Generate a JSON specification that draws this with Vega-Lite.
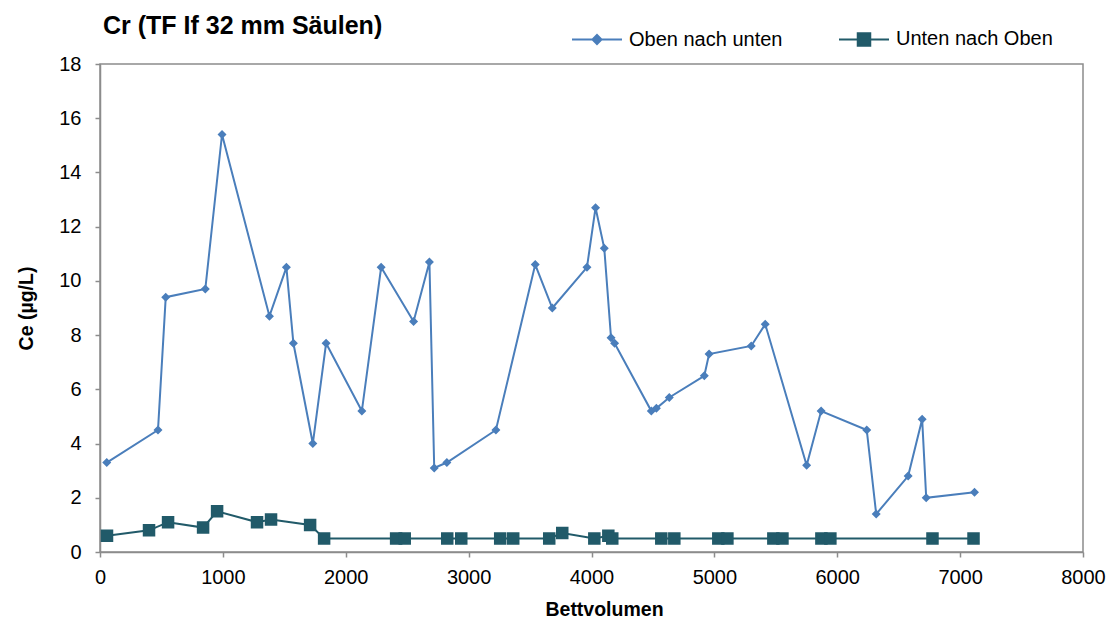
{
  "$schema": "https://vega.github.io/schema/vega-lite/v6.json",
  "width": 983,
  "height": 488,
  "autosize": {"type": "none"},
  "padding": {"left": 100, "top": 64, "right": 32, "bottom": 72},
  "background": "white",
  "config": {
    "font": "Liberation Sans",
    "view": {"stroke": "#8c8c8c", "strokeWidth": 1.5}
  },
  "title": {"text": "Cr (TF If 32 mm Säulen)", "anchor": "start", "frame": "group", "fontSize": 25, "fontWeight": "bold", "color": "black", "offset": 22, "dx": 3, "dy": 48},
  "data": {"values": [
    {"bv": 55, "ce": 3.3, "series": "Oben nach unten"},
    {"bv": 472, "ce": 4.5, "series": "Oben nach unten"},
    {"bv": 535, "ce": 9.4, "series": "Oben nach unten"},
    {"bv": 857, "ce": 9.7, "series": "Oben nach unten"},
    {"bv": 993, "ce": 15.4, "series": "Oben nach unten"},
    {"bv": 1379, "ce": 8.7, "series": "Oben nach unten"},
    {"bv": 1517, "ce": 10.5, "series": "Oben nach unten"},
    {"bv": 1574, "ce": 7.7, "series": "Oben nach unten"},
    {"bv": 1732, "ce": 4.0, "series": "Oben nach unten"},
    {"bv": 1840, "ce": 7.7, "series": "Oben nach unten"},
    {"bv": 2131, "ce": 5.2, "series": "Oben nach unten"},
    {"bv": 2288, "ce": 10.5, "series": "Oben nach unten"},
    {"bv": 2552, "ce": 8.5, "series": "Oben nach unten"},
    {"bv": 2681, "ce": 10.7, "series": "Oben nach unten"},
    {"bv": 2720, "ce": 3.1, "series": "Oben nach unten"},
    {"bv": 2823, "ce": 3.3, "series": "Oben nach unten"},
    {"bv": 3222, "ce": 4.5, "series": "Oben nach unten"},
    {"bv": 3542, "ce": 10.6, "series": "Oben nach unten"},
    {"bv": 3681, "ce": 9.0, "series": "Oben nach unten"},
    {"bv": 3963, "ce": 10.5, "series": "Oben nach unten"},
    {"bv": 4033, "ce": 12.7, "series": "Oben nach unten"},
    {"bv": 4104, "ce": 11.2, "series": "Oben nach unten"},
    {"bv": 4159, "ce": 7.9, "series": "Oben nach unten"},
    {"bv": 4188, "ce": 7.7, "series": "Oben nach unten"},
    {"bv": 4487, "ce": 5.2, "series": "Oben nach unten"},
    {"bv": 4528, "ce": 5.3, "series": "Oben nach unten"},
    {"bv": 4633, "ce": 5.7, "series": "Oben nach unten"},
    {"bv": 4918, "ce": 6.5, "series": "Oben nach unten"},
    {"bv": 4957, "ce": 7.3, "series": "Oben nach unten"},
    {"bv": 5300, "ce": 7.6, "series": "Oben nach unten"},
    {"bv": 5414, "ce": 8.4, "series": "Oben nach unten"},
    {"bv": 5751, "ce": 3.2, "series": "Oben nach unten"},
    {"bv": 5869, "ce": 5.2, "series": "Oben nach unten"},
    {"bv": 6240, "ce": 4.5, "series": "Oben nach unten"},
    {"bv": 6317, "ce": 1.4, "series": "Oben nach unten"},
    {"bv": 6577, "ce": 2.8, "series": "Oben nach unten"},
    {"bv": 6691, "ce": 4.9, "series": "Oben nach unten"},
    {"bv": 6724, "ce": 2.0, "series": "Oben nach unten"},
    {"bv": 7117, "ce": 2.2, "series": "Oben nach unten"},
    {"bv": 57, "ce": 0.6, "series": "Unten nach Oben"},
    {"bv": 399, "ce": 0.8, "series": "Unten nach Oben"},
    {"bv": 554, "ce": 1.1, "series": "Unten nach Oben"},
    {"bv": 839, "ce": 0.9, "series": "Unten nach Oben"},
    {"bv": 953, "ce": 1.5, "series": "Unten nach Oben"},
    {"bv": 1278, "ce": 1.1, "series": "Unten nach Oben"},
    {"bv": 1392, "ce": 1.2, "series": "Unten nach Oben"},
    {"bv": 1710, "ce": 1.0, "series": "Unten nach Oben"},
    {"bv": 1824, "ce": 0.5, "series": "Unten nach Oben"},
    {"bv": 2410, "ce": 0.5, "series": "Unten nach Oben"},
    {"bv": 2480, "ce": 0.5, "series": "Unten nach Oben"},
    {"bv": 2826, "ce": 0.5, "series": "Unten nach Oben"},
    {"bv": 2940, "ce": 0.5, "series": "Unten nach Oben"},
    {"bv": 3257, "ce": 0.5, "series": "Unten nach Oben"},
    {"bv": 3363, "ce": 0.5, "series": "Unten nach Oben"},
    {"bv": 3656, "ce": 0.5, "series": "Unten nach Oben"},
    {"bv": 3762, "ce": 0.7, "series": "Unten nach Oben"},
    {"bv": 4023, "ce": 0.5, "series": "Unten nach Oben"},
    {"bv": 4137, "ce": 0.6, "series": "Unten nach Oben"},
    {"bv": 4169, "ce": 0.5, "series": "Unten nach Oben"},
    {"bv": 4568, "ce": 0.5, "series": "Unten nach Oben"},
    {"bv": 4674, "ce": 0.5, "series": "Unten nach Oben"},
    {"bv": 5032, "ce": 0.5, "series": "Unten nach Oben"},
    {"bv": 5106, "ce": 0.5, "series": "Unten nach Oben"},
    {"bv": 5480, "ce": 0.5, "series": "Unten nach Oben"},
    {"bv": 5554, "ce": 0.5, "series": "Unten nach Oben"},
    {"bv": 5871, "ce": 0.5, "series": "Unten nach Oben"},
    {"bv": 5944, "ce": 0.5, "series": "Unten nach Oben"},
    {"bv": 6775, "ce": 0.5, "series": "Unten nach Oben"},
    {"bv": 7109, "ce": 0.5, "series": "Unten nach Oben"}
  ]},
  "encoding": {
    "x": {
      "field": "bv", "type": "quantitative",
      "scale": {"domain": [0, 8000], "nice": false},
      "axis": {
        "title": "Bettvolumen", "titleFontSize": 19.5, "titleFontWeight": "bold", "titleColor": "black", "titlePadding": 13, "titleX": 504,
        "labelFontSize": 20, "labelColor": "black", "labelPadding": 10, "labelFlush": false, "labelOverlap": false, "format": "d",
        "values": [0, 1000, 2000, 3000, 4000, 5000, 6000, 7000, 8000],
        "grid": false, "domainColor": "#8c8c8c", "domainWidth": 1.5, "tickColor": "#8c8c8c", "tickWidth": 1.5, "tickSize": 5
      }
    },
    "y": {
      "field": "ce", "type": "quantitative",
      "scale": {"domain": [0, 18], "nice": false},
      "axis": {
        "title": "Ce (µg/L)", "titleFontSize": 19.5, "titleFontWeight": "bold", "titleColor": "black", "titlePadding": 22,
        "labelFontSize": 20, "labelColor": "black", "labelPadding": 14, "labelFlush": false, "labelOverlap": false,
        "values": [0, 2, 4, 6, 8, 10, 12, 14, 16, 18],
        "grid": false, "domainColor": "#8c8c8c", "domainWidth": 1.5, "tickColor": "#8c8c8c", "tickWidth": 1.5, "tickSize": 5
      }
    },
    "color": {
      "field": "series", "type": "nominal",
      "scale": {"domain": ["Oben nach unten", "Unten nach Oben"], "range": ["#4A7EBB", "#215A69"]},
      "legend": {
        "orient": "none", "legendX": 471, "legendY": -51, "direction": "horizontal", "title": null, "padding": 0,
        "labelFontSize": 20, "labelColor": "black", "labelOffset": 6, "columnPadding": 52, "symbolSize": 2500,
        "encode": {"symbols": {"update": {"stroke": {"scale": "color", "field": "value"}, "strokeWidth": {"value": 2}}}}
      }
    }
  },
  "layer": [
    {"mark": {"type": "line", "strokeWidth": 2}},
    {
      "mark": {"type": "point", "filled": true, "size": 2500, "opacity": 1},
      "encoding": {
        "shape": {
          "field": "series", "type": "nominal",
          "scale": {"domain": ["Oben nach unten", "Unten nach Oben"], "range": ["M-1,0H1M0,-0.18L0.18,0L0,0.18L-0.18,0Z", "M-1,0H1M-0.25,-0.25H0.25V0.25H-0.25Z"]},
          "legend": {
            "orient": "none", "legendX": 471, "legendY": -51, "direction": "horizontal", "title": null, "padding": 0,
            "labelFontSize": 20, "labelColor": "black", "labelOffset": 6, "columnPadding": 52, "symbolSize": 2500,
            "encode": {"symbols": {"update": {"stroke": {"scale": "color", "field": "value"}, "strokeWidth": {"value": 2}}}}
          }
        }
      }
    }
  ]
}
